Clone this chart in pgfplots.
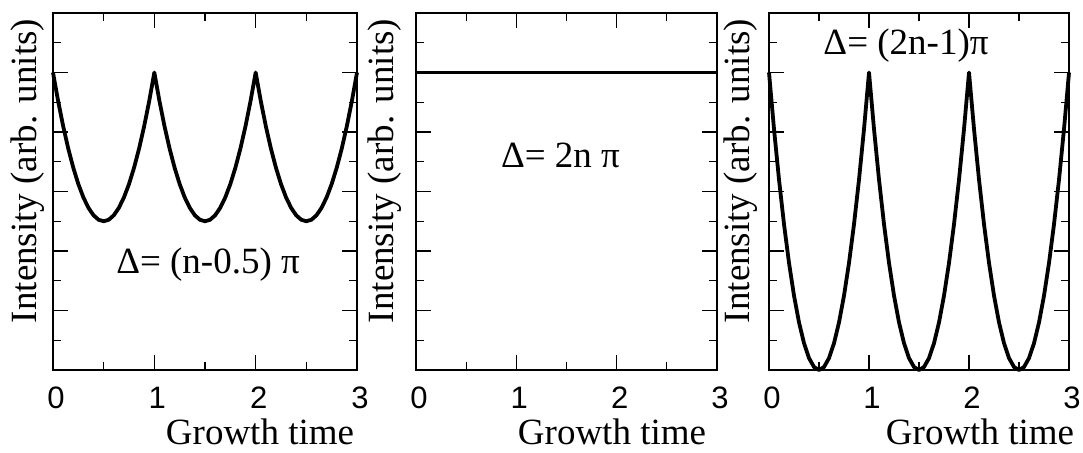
\documentclass[border=0pt]{standalone}
\usepackage{fontspec}
\setmainfont{Liberation Serif}
\newfontfamily\tickfont{Liberation Sans}
\usepackage{pgfplots}
\pgfplotsset{compat=1.18}
\pgfplotsset{panel/.style={
  scale only axis, height=357pt, anchor=south west,
  xmin=0,xmax=3,ymin=0,ymax=1.2,
  axis line style={line width=1.5pt},
  every tick/.style={line width=1.2pt, black},
  tick align=inside,
  xtick={0,1,2,3}, xticklabels={0,1,2,3},
  minor xtick={0.5,1.5,2.5},
  ytick={0,0.2,0.4,0.6,0.8,1.0,1.2}, yticklabels={,,,,,,},
  minor ytick={0.1,0.3,0.5,0.7,0.9,1.1},
  major tick length=15pt, minor tick length=8pt,
  xticklabel style={font=\tickfont\fontsize{31}{31}\selectfont, anchor=base, inner sep=0pt, yshift=-38pt, xshift=3pt},
  clip=false,
}}
\newcommand\lbl{\fontsize{37}{40}\selectfont}
\begin{document}
\begin{tikzpicture}
\useasboundingbox (0,0) rectangle (1083pt,452pt);
% panel 1
\begin{axis}[panel, at={(53pt,82pt)}, width=304pt]
\addplot[black, line width=3.8pt, line join=round] coordinates {
(0,1)(0.05,0.905)(0.1,0.82)(0.15,0.745)(0.2,0.68)(0.25,0.625)(0.3,0.58)(0.35,0.545)(0.4,0.52)(0.45,0.505)(0.5,0.5)(0.55,0.505)(0.6,0.52)(0.65,0.545)(0.7,0.58)(0.75,0.625)(0.8,0.68)(0.85,0.745)(0.9,0.82)(0.95,0.905)
(1,1)(1.05,0.905)(1.1,0.82)(1.15,0.745)(1.2,0.68)(1.25,0.625)(1.3,0.58)(1.35,0.545)(1.4,0.52)(1.45,0.505)(1.5,0.5)(1.55,0.505)(1.6,0.52)(1.65,0.545)(1.7,0.58)(1.75,0.625)(1.8,0.68)(1.85,0.745)(1.9,0.82)(1.95,0.905)
(2,1)(2.05,0.905)(2.1,0.82)(2.15,0.745)(2.2,0.68)(2.25,0.625)(2.3,0.58)(2.35,0.545)(2.4,0.52)(2.45,0.505)(2.5,0.5)(2.55,0.505)(2.6,0.52)(2.65,0.545)(2.7,0.58)(2.75,0.625)(2.8,0.68)(2.85,0.745)(2.9,0.82)(2.95,0.905)
(3,1)};
\node[font=\lbl] at (axis cs:1.53,0.354) {Δ= (n-0.5) π};
\end{axis}
% panel 2
\begin{axis}[panel, at={(416pt,82pt)}, width=301pt]
\addplot[black, line width=3pt] coordinates {(0,1)(1,1)(2,1)(3,1)};
\node[font=\lbl] at (axis cs:1.44,0.72) {Δ= 2n π};
\end{axis}
% panel 3
\begin{axis}[panel, at={(769pt,82pt)}, width=300pt]
\addplot[black, line width=3.8pt, line join=round] coordinates {
(0,1)(0.05,0.81)(0.1,0.64)(0.15,0.49)(0.2,0.36)(0.25,0.25)(0.3,0.16)(0.35,0.09)(0.4,0.04)(0.45,0.01)(0.5,0)(0.55,0.01)(0.6,0.04)(0.65,0.09)(0.7,0.16)(0.75,0.25)(0.8,0.36)(0.85,0.49)(0.9,0.64)(0.95,0.81)
(1,1)(1.05,0.81)(1.1,0.64)(1.15,0.49)(1.2,0.36)(1.25,0.25)(1.3,0.16)(1.35,0.09)(1.4,0.04)(1.45,0.01)(1.5,0)(1.55,0.01)(1.6,0.04)(1.65,0.09)(1.7,0.16)(1.75,0.25)(1.8,0.36)(1.85,0.49)(1.9,0.64)(1.95,0.81)
(2,1)(2.05,0.81)(2.1,0.64)(2.15,0.49)(2.2,0.36)(2.25,0.25)(2.3,0.16)(2.35,0.09)(2.4,0.04)(2.45,0.01)(2.5,0)(2.55,0.01)(2.6,0.04)(2.65,0.09)(2.7,0.16)(2.75,0.25)(2.8,0.36)(2.85,0.49)(2.9,0.64)(2.95,0.81)
(3,1)};
\node[font=\lbl] at (axis cs:1.37,1.09) {Δ= (2n-1)π};
\end{axis}
% axis titles
\node[font=\lbl, rotate=90] at (28pt,281pt) {Intensity (arb. units)};
\node[font=\lbl, rotate=90] at (385pt,281pt) {Intensity (arb. units)};
\node[font=\lbl, rotate=90] at (741pt,281pt) {Intensity (arb. units)};
\node[font=\lbl, anchor=base, inner sep=0pt] at (260pt,8pt) {Growth time};
\node[font=\lbl, anchor=base, inner sep=0pt] at (612pt,8pt) {Growth time};
\node[font=\lbl, anchor=base, inner sep=0pt] at (980pt,8pt) {Growth time};
\end{tikzpicture}
\end{document}
